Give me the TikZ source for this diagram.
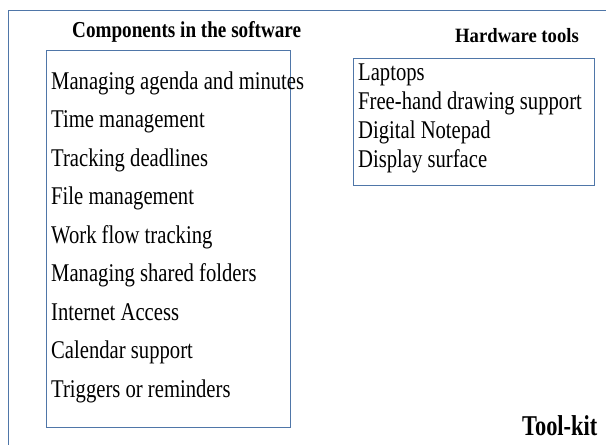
\documentclass[tikz,border=0pt]{standalone}
\usepackage{fontspec}
\setmainfont{Liberation Serif}
\newfontfamily\tnA[FakeStretch=0.81]{Liberation Serif}
\newfontfamily\tnB[FakeStretch=0.84]{Liberation Serif}
\newfontfamily\tnH[FakeStretch=0.92]{Liberation Serif}
\newfontfamily\tnT[FakeStretch=0.78]{Liberation Serif}
\definecolor{frameblue}{HTML}{4F76A8}
\tikzset{
  boxframe/.style={draw=frameblue, line width=1.3pt, inner sep=0pt, anchor=north west},
  itemtext/.style={anchor=base west, inner sep=0pt, font=\tnA\fontsize{25.5bp}{27bp}\selectfont},
  headtext/.style={anchor=base west, inner sep=0pt, font=\tnB\bfseries\fontsize{22.8bp}{24bp}\selectfont}
}
\begin{document}
\begin{tikzpicture}[x=1bp,y=-1bp]
\useasboundingbox (0,0) rectangle (606,445);
\clip (0,0) rectangle (606,445);
\node[boxframe, minimum width=620bp, minimum height=450bp] (outer) at (8,10) {};
\node[boxframe, minimum width=244bp, minimum height=377bp] (softbox) at (46,50) {};
\node[boxframe, minimum width=241bp, minimum height=127bp] (hardbox) at (353,58) {};

\node[headtext] (softhead) at (72,38) {Components in the software};
\node[headtext, font=\tnH\bfseries\fontsize{20.3bp}{22bp}\selectfont] (hardhead) at (455,43) {Hardware tools};
\node[headtext, font=\tnT\bfseries\fontsize{28.7bp}{30bp}\selectfont] (toolkit) at (522,435) {Tool-kit};

\node[itemtext] (s1) at (51,89.3) {Managing agenda and minutes};
\node[itemtext] (s2) at (51,127.8) {Time management};
\node[itemtext] (s3) at (51,166.3) {Tracking deadlines};
\node[itemtext] (s4) at (51,204.8) {File management};
\node[itemtext] (s5) at (51,243.3) {Work flow tracking};
\node[itemtext] (s6) at (51,281.8) {Managing shared folders};
\node[itemtext] (s7) at (51,320.3) {Internet Access};
\node[itemtext] (s8) at (51,358.8) {Calendar support};
\node[itemtext] (s9) at (51,397.3) {Triggers or reminders};

\node[itemtext] (h1) at (358,81) {Laptops};
\node[itemtext] (h2) at (358,110) {Free-hand drawing support};
\node[itemtext] (h3) at (358,139) {Digital Notepad};
\node[itemtext] (h4) at (358,168) {Display surface};
\end{tikzpicture}
\end{document}
